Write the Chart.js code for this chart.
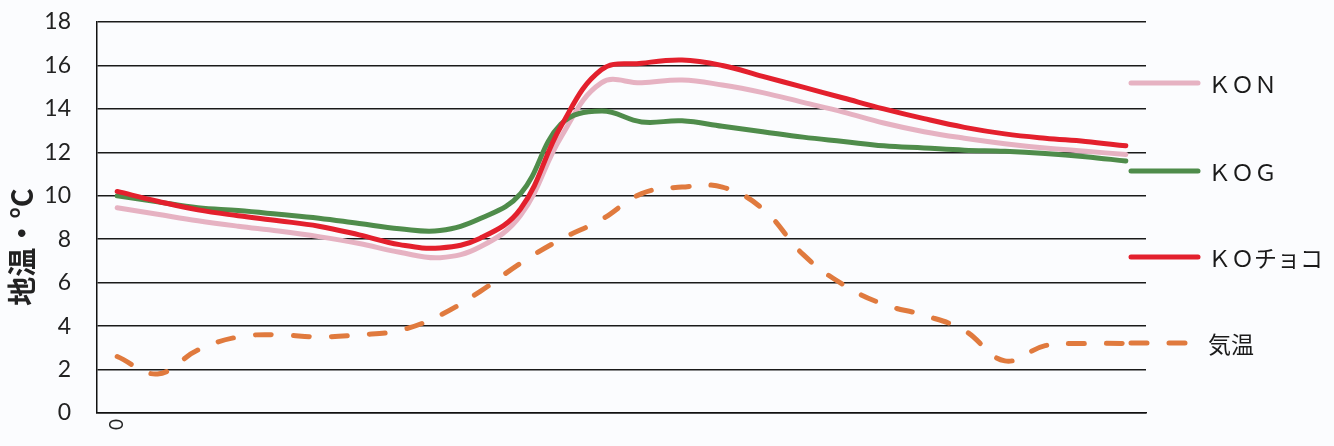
<!DOCTYPE html>
<html><head><meta charset="utf-8">
<script src="https://cdn.jsdelivr.net/npm/chart.js@4"></script>
<style>html,body{margin:0;padding:0;background:#fbfcfe;}#wrap{width:1334px;height:446px;position:relative;}</style>
</head><body><div id="wrap"><canvas id="c" width="1334" height="446"></canvas></div>
<script>
const categories = ['0','','','','','','','','','','','','','','','','','','','','','','','','',''];
const yTicks = [0,2,4,6,8,10,12,14,16,18];
const seriesNames = ['ＫＯＮ','ＫＯＧ','ＫＯチョコ','気温'];
const kon   = [9.45,9.15,8.85,8.6,8.38,8.12,7.8,7.4,7.15,7.65,9.1,12.7,15.2,15.2,15.33,15.1,14.75,14.3,13.85,13.35,12.95,12.65,12.4,12.2,12.05,11.9];
const kog   = [10.0,9.72,9.45,9.32,9.15,8.97,8.72,8.48,8.4,8.95,10.1,13.3,13.9,13.4,13.45,13.2,12.95,12.7,12.5,12.3,12.2,12.1,12.05,11.95,11.8,11.6];
const kochoco = [10.2,9.75,9.35,9.08,8.85,8.6,8.2,7.75,7.6,8.05,9.4,13.2,15.8,16.1,16.25,16.0,15.5,15.0,14.5,14.0,13.55,13.15,12.85,12.65,12.5,12.3];
const kion  = [2.6,1.8,2.9,3.5,3.6,3.5,3.6,3.8,4.5,5.6,6.9,8.0,8.9,10.1,10.4,10.4,9.4,7.3,5.9,5.0,4.5,3.8,2.4,3.1,3.2,3.2];
const yTitle = '地温・°C';

const colors = ['#e6b2c2','#4f8c4b','#e3202d','#e07a3e'];
const dash = [16,22];

const legendPlugin = {
  id:'customLegend',
  afterDraw(chart){
    const ctx = chart.ctx;
    ctx.save();
    ctx.translate(22, 247);
    ctx.rotate(-Math.PI/2);
    ctx.font = 'bold 29px "Noto Sans CJK JP"';
    ctx.fillStyle = '#222';
    ctx.textAlign = 'center';
    ctx.textBaseline = 'middle';
    ctx.fillText(yTitle, 0, 0);
    ctx.restore();
    const ys = [83,171,257,343];
    chart.data.datasets.forEach((ds,i)=>{
      ctx.save();
      ctx.strokeStyle = ds.borderColor;
      ctx.lineWidth = 5;
      ctx.lineCap = 'round';
      if (ds.borderDash && ds.borderDash.length) ctx.setLineDash(ds.borderDash);
      ctx.beginPath();
      ctx.moveTo(1131, ys[i]);
      ctx.lineTo(1198, ys[i]);
      ctx.stroke();
      ctx.setLineDash([]);
      ctx.fillStyle = '#1a1a1a';
      ctx.font = '23px "Noto Sans CJK JP"';
      ctx.textAlign = 'left';
      ctx.textBaseline = 'middle';
      ctx.fillText(ds.label, 1208, ys[i]+1);
      ctx.restore();
    });
  }
};

new Chart(document.getElementById('c'), {
  type:'line',
  data:{
    labels: categories,
    datasets:[
      {label:seriesNames[0], data:kon, borderColor:colors[0], borderWidth:5, tension:0.4, pointRadius:0, order:2, borderCapStyle:'round'},
      {label:seriesNames[1], data:kog, borderColor:colors[1], borderWidth:5, tension:0.4, pointRadius:0, order:1, borderCapStyle:'round'},
      {label:seriesNames[2], data:kochoco, borderColor:colors[2], borderWidth:5, tension:0.4, pointRadius:0, order:0, borderCapStyle:'round'},
      {label:seriesNames[3], data:kion, borderColor:colors[3], borderWidth:5, tension:0.4, pointRadius:0, order:3, borderDash:dash, borderCapStyle:'round'}
    ]
  },
  options:{
    responsive:false,
    animation:false,
    layout:{padding:{top:22,right:188,left:0,bottom:0}},
    plugins:{legend:{display:false}, tooltip:{enabled:false}},
    scales:{
      x:{
        type:'category',
        offset:true,
        grid:{display:false, drawTicks:true, tickLength:6, tickColor:'rgba(0,0,0,0)'},
        border:{display:true,color:'#111',width:1.5},
        ticks:{autoSkip:false, minRotation:90, maxRotation:90, padding:0, color:'#222', font:{family:'Lato', size:19}},
        afterFit(s){ s.height = 33; }
      },
      y:{
        min:0, max:18,
        afterBuildTicks(s){ s.ticks = yTicks.map(v=>({value:v})); },
        grid:{color:'#1a1a1a', lineWidth:1.5, drawTicks:true, tickLength:26, tickColor:'rgba(0,0,0,0)'},
        border:{display:true,color:'#111',width:1.5},
        ticks:{padding:0, color:'#222', font:{family:'Lato', size:23}},
        afterFit(s){ s.width = 97; }
      }
    }
  },
  plugins:[legendPlugin]
});
</script></body></html>
